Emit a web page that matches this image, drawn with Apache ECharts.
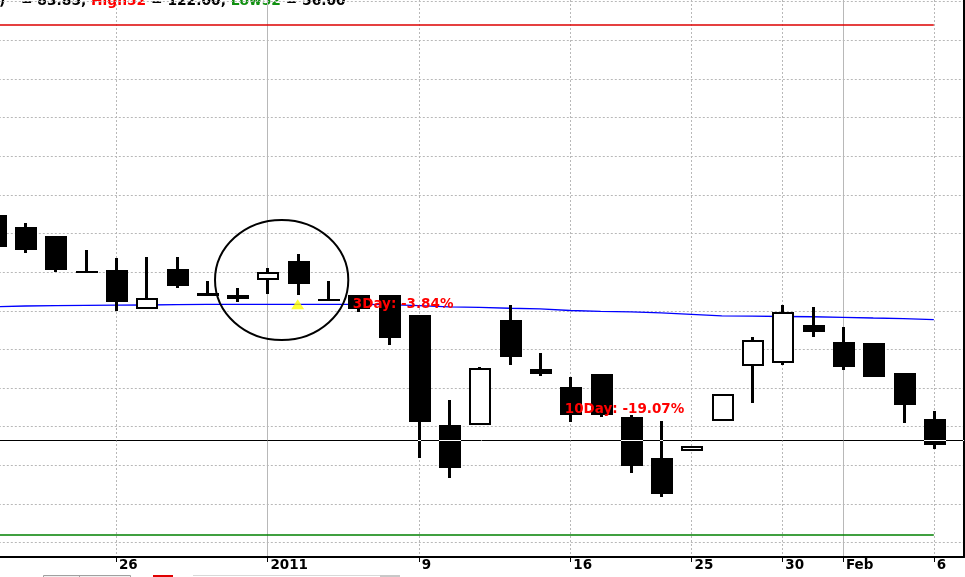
<!DOCTYPE html>
<html><head><meta charset="utf-8">
<script src="https://cdn.jsdelivr.net/npm/echarts@6/dist/echarts.min.js"></script>
<style>html,body{margin:0;padding:0;background:#fff;overflow:hidden}#c{width:965px;height:577px}</style>
</head><body><div id="c"></div>
<script>
// ---- data ----
const dates = ['2010-12-20','2010-12-21','2010-12-22','2010-12-23','2010-12-26','2010-12-27','2010-12-28','2010-12-29','2010-12-30',
  '2011-01-02','2011-01-03','2011-01-04','2011-01-05','2011-01-06','2011-01-09','2011-01-10','2011-01-11','2011-01-12','2011-01-13',
  '2011-01-16','2011-01-17','2011-01-18','2011-01-19','2011-01-25','2011-01-26','2011-01-27','2011-01-30','2011-01-31',
  '2011-02-01','2011-02-02','2011-02-03','2011-02-06'];
const opens  = [97.44,95.84,94.67,90.18,90.27,85.19,90.40,86.95,86.56,88.94,91.44,86.56,87.04,87.04,84.45,70.21,70.21,83.80,77.42,75.17,76.81,71.29,65.98,66.89,70.77,77.89,78.20,83.16,80.96,80.83,76.94,70.99];
const highs  = [97.78,96.36,94.67,92.86,91.83,91.96,91.96,88.85,87.94,90.53,92.34,88.85,87.04,87.04,84.45,73.45,77.68,85.74,79.57,76.46,76.81,71.51,70.77,67.53,74.23,81.60,85.74,85.48,82.90,80.83,76.94,72.03];
const lows   = [92.99,92.51,90.01,89.92,85.01,85.19,87.94,86.95,86.17,87.21,87.04,86.30,84.88,80.57,65.98,63.39,70.21,77.98,76.55,70.64,71.29,64.04,60.86,66.89,70.77,73.10,78.02,81.64,77.33,76.43,70.51,67.15];
const closes = [93.21,92.90,90.31,89.92,86.17,86.61,88.24,87.26,87.00,89.98,88.50,86.30,85.19,81.51,70.64,64.69,77.55,79.05,76.81,71.51,71.51,64.91,61.28,67.53,74.23,81.21,84.84,82.29,77.76,76.43,72.84,67.66];
const maLine = [85.51,85.61,85.65,85.69,85.72,85.74,85.78,85.81,85.82,85.83,85.83,85.83,85.82,85.78,85.67,85.50,85.43,85.32,85.23,85.03,84.92,84.84,84.71,84.53,84.33,84.29,84.25,84.22,84.15,84.06,83.98,83.85];
const tickIdx   = [4, 9, 14, 19, 23, 26, 28, 31];
const tickText  = ['26','2011','9','16','25','30','Feb','6'];
const majorIdx  = [9, 28];
const gridLevels = {min: 55, max: 125, step: 5};
const high52 = 122.00, low52 = 56.00, refLevel = 68.23;
const signalPts = [[10, 85.85]];
const notes = [[12, 85.83], [19, 72.25]];
const noteText = ['3Day: -3.84%', '10Day: -19.07%'];
const circleNote = [[9, 88.98]];   // centre (category, value)
const circleSpan = {dIdx: 0.47, rIdx: 2.2, rVal: 7.77};

// ---- build ----
const cats = dates.concat(['']);
const ohlc = dates.map((d, i) => [i, opens[i], closes[i], lows[i], highs[i]]);
const FONT = 'bold 13.5px "DejaVu Sans"';
const HFONT = 'bold 13.8px "DejaVu Sans"';

function renderCandle(params, api) {
  const i = api.value(0), o = api.value(1), c = api.value(2), l = api.value(3), h = api.value(4);
  const po = api.coord([i, o]), pc = api.coord([i, c]), pl = api.coord([i, l]), ph = api.coord([i, h]);
  const band = api.size([1, 0])[0];
  const bw = Math.round(band * 0.72);
  const cx = Math.round(po[0]);
  const left = cx - Math.round(bw / 2) + 1;
  let top = Math.round(Math.min(po[1], pc[1])), bot = Math.round(Math.max(po[1], pc[1]));
  const kids = [{type: 'rect', shape: {x: cx - 1, y: Math.round(ph[1]), width: 3, height: Math.max(Math.round(pl[1]) - Math.round(ph[1]), 1)}, style: {fill: '#000'}}];
  if (c > o) {
    kids.push({type: 'rect', shape: {x: left + 1, y: top + 1, width: bw - 2, height: Math.max(bot - top - 2, 0)}, style: {fill: '#fff', stroke: '#000', lineWidth: 2}});
  } else {
    if (bot - top < 2) { const m = Math.round((top + bot) / 2); top = m - 1; bot = m + 1; }
    kids.push({type: 'rect', shape: {x: left, y: top, width: bw, height: bot - top}, style: {fill: '#000'}});
  }
  return {type: 'group', children: kids};
}

const chart = echarts.init(document.getElementById('c'), null, {renderer: 'canvas'});
chart.setOption({
  animation: false,
  backgroundColor: '#fff',
  grid: [
    {left: -5.2, top: 0, width: 969.3, height: 557, outerBoundsMode: 'none', containLabel: false},
    {left: -5.2, top: 1.665, width: 969.3, height: 540.9, outerBoundsMode: 'none', containLabel: false}
  ],
  xAxis: [
    {type: 'category', gridIndex: 0, data: cats, boundaryGap: false, position: 'bottom',
     axisLine: {show: true, onZero: false, lineStyle: {color: '#000', width: 2}},
     axisTick: {show: true, interval: i => tickIdx.includes(i), length: 5, lineStyle: {color: '#000', width: 1}},
     axisLabel: {show: true, interval: i => tickIdx.includes(i), formatter: (v, i) => { const k = dates.indexOf(v); const j = tickIdx.indexOf(k); return j >= 0 ? tickText[j] : ''; },
       align: 'left', padding: [0, 0, 0, 3], margin: 1, color: '#000', fontFamily: 'DejaVu Sans', fontWeight: 'bold', fontSize: 13.5},
     splitLine: {show: true, interval: i => tickIdx.includes(i) && !majorIdx.includes(i), lineStyle: {color: '#b8b8b8', type: [2, 2], width: 1}}},
    {type: 'category', gridIndex: 0, data: cats, boundaryGap: false, position: 'bottom',
     axisLine: {show: false}, axisTick: {show: false}, axisLabel: {show: false},
     splitLine: {show: true, interval: i => majorIdx.includes(i), lineStyle: {color: '#b8b8b8', type: 'solid', width: 1}}},
    {type: 'value', gridIndex: 1, show: false}
  ],
  yAxis: [
    {type: 'value', gridIndex: 0, min: 53.13, max: 125.21, position: 'right',
     axisLine: {show: true, lineStyle: {color: '#000', width: 2}}, axisTick: {show: false}, axisLabel: {show: false}, splitLine: {show: false}},
    {type: 'value', gridIndex: 1, min: gridLevels.min, max: gridLevels.max, interval: gridLevels.step,
     axisLine: {show: false}, axisTick: {show: false}, axisLabel: {show: false},
     splitLine: {show: true, lineStyle: {color: '#b8b8b8', type: [2, 2], width: 1}}}
  ],
  series: [
    {type: 'line', xAxisIndex: 0, yAxisIndex: 0, data: maLine, symbol: 'none', silent: true, z: 2,
     lineStyle: {color: '#0000ff', width: 1.3},
     markLine: {silent: true, symbol: ['none', 'none'], label: {show: false},
       data: [
         [{coord: [dates[0], high52], lineStyle: {color: '#dd0000', width: 1.5, type: 'solid'}}, {coord: [dates[dates.length - 1], high52]}],
         [{coord: [dates[0], low52], lineStyle: {color: '#008000', width: 1.5, type: 'solid'}}, {coord: [dates[dates.length - 1], low52]}]
       ]}},
    {type: 'custom', xAxisIndex: 0, yAxisIndex: 0, data: ohlc, renderItem: renderCandle, clip: true, silent: true, z: 3,
     encode: {x: 0, y: [1, 2, 3, 4]}},
    {type: 'custom', xAxisIndex: 0, yAxisIndex: 0, data: [[0, refLevel]], silent: true, z: 4, blendMode: 'difference',
     renderItem: (params, api) => {
       const y = Math.round(api.coord([0, api.value(1)])[1]) + 0.5;
       const cs = params.coordSys;
       return {type: 'line', shape: {x1: cs.x, y1: y, x2: cs.x + cs.width, y2: y}, style: {stroke: '#fff', lineWidth: 1}};
     }},
    {type: 'scatter', xAxisIndex: 0, yAxisIndex: 0, data: signalPts, symbol: 'triangle', symbolSize: [13, 10], silent: true, z: 5,
     itemStyle: {color: '#ffff00'}},
    {type: 'custom', xAxisIndex: 0, yAxisIndex: 0, data: circleNote, silent: true, z: 5,
     renderItem: (params, api) => {
       const p = api.coord([api.value(0), api.value(1)]);
       const band = api.size([1, 0])[0];
       const ry = api.size([0, circleSpan.rVal])[1];
       return {type: 'ellipse', shape: {cx: p[0] + circleSpan.dIdx * band, cy: p[1], rx: circleSpan.rIdx * band, ry: ry}, style: {fill: 'none', stroke: '#000', lineWidth: 2}};
     }},
    {type: 'custom', xAxisIndex: 0, yAxisIndex: 0, data: notes, silent: true, z: 6,
     renderItem: (params, api) => {
       const p = api.coord([api.value(0), api.value(1)]);
       return {type: 'text', x: p[0] - 5.5, y: p[1], style: {text: noteText[params.dataIndex], fill: '#ff0000', font: FONT, align: 'left', verticalAlign: 'middle'}};
     }}
  ],
  graphic: [
    {type: 'text', x: -1, y: -6, silent: true, style: {text: ')', font: HFONT, fill: '#000', verticalAlign: 'top'}},
    {type: 'text', x: 21, y: -6, silent: true, style: {
      text: '{k|= ' + maLine[maLine.length - 1].toFixed(2) + ', }{r|High52}{k| = ' + high52.toFixed(2) + ', }{g|Low52}{k| = ' + low52.toFixed(2) + '}',
      font: HFONT, verticalAlign: 'top',
      rich: {k: {fill: '#000', font: HFONT}, r: {fill: '#ff0000', font: HFONT}, g: {fill: '#109010', font: HFONT}}}},
    {type: 'rect', silent: true, shape: {x: 43.5, y: 575.5, width: 87, height: 4}, style: {fill: '#f0f0f0', stroke: '#a0a0a0', lineWidth: 1}},
    {type: 'rect', silent: true, shape: {x: 79, y: 575, width: 1, height: 2}, style: {fill: '#a0a0a0'}},
    {type: 'rect', silent: true, shape: {x: 153, y: 575, width: 20, height: 2}, style: {fill: '#e00000'}},
    {type: 'rect', silent: true, shape: {x: 193, y: 575, width: 188, height: 1}, style: {fill: '#d8d8d8'}},
    {type: 'rect', silent: true, shape: {x: 380, y: 575, width: 20, height: 2}, style: {fill: '#c8c8c8'}}
  ]
});
</script></body></html>
